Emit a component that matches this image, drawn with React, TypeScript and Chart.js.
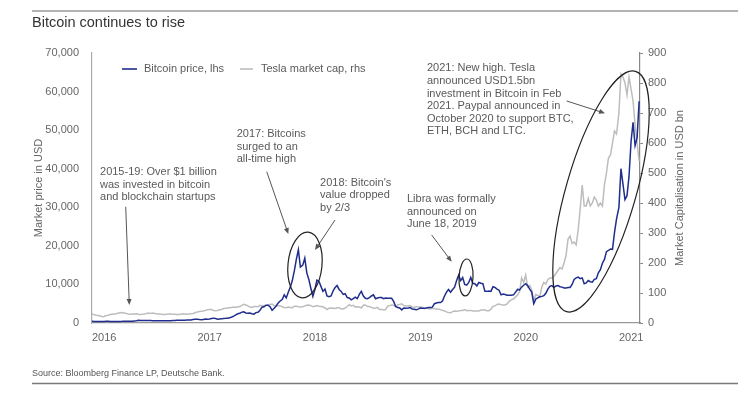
import React, { useEffect, useRef } from "react";
import { Chart, registerables } from "chart.js";
Chart.register(...registerables);

// ---- Data (weekly readings, starting 1 Jan of each year) ----
const yearTicks = [2016, 2017, 2018, 2019, 2020, 2021];
const leftTicks = [0, 10000, 20000, 30000, 40000, 50000, 60000, 70000];
const rightTicks = [0, 100, 200, 300, 400, 500, 600, 700, 800, 900];

// Bitcoin price, USD (lhs)
const btc2016 = [430, 380, 390, 385, 370, 375, 400, 430, 440, 415, 410, 415, 420, 420, 420, 425, 450, 450, 455, 445, 450, 530, 580, 700, 620, 650, 670, 655, 665, 655, 600, 590, 575, 580, 575, 605, 610, 605, 600, 615, 640, 650, 690, 710, 740, 740, 730, 760, 770, 790, 890, 960];
const btc2017 = [1000, 900, 830, 920, 1010, 1000, 1050, 1180, 1260, 1150, 1000, 1040, 1070, 1180, 1200, 1250, 1340, 1550, 1800, 2100, 2400, 2500, 2800, 2900, 2600, 2500, 2600, 2400, 2300, 2700, 2800, 3300, 4100, 4200, 4600, 4600, 4200, 3300, 3800, 4400, 5200, 5700, 6100, 7300, 6500, 8000, 9300, 11000, 13500, 16500, 19000, 14500];
const btc2018 = [15000, 16800, 13000, 11300, 9000, 6900, 8700, 11100, 10800, 9500, 8200, 8800, 7000, 6800, 7000, 8300, 9200, 9700, 8700, 8200, 7400, 7600, 6600, 6500, 6000, 6300, 6700, 6300, 7400, 8200, 7000, 6400, 6300, 6600, 7000, 7300, 6300, 6500, 6600, 6600, 6300, 6500, 6400, 6400, 6400, 5600, 4300, 4000, 3900, 3400, 3900, 3800];
const btc2019 = [3900, 4000, 3600, 3550, 3450, 3600, 3900, 3850, 3850, 3900, 4000, 4000, 4100, 5000, 5200, 5300, 5300, 5700, 7000, 8000, 8700, 8000, 8700, 9300, 11000, 12400, 11000, 11800, 10000, 9800, 10500, 11800, 10300, 10200, 9600, 10500, 10300, 10200, 8200, 8200, 8300, 8200, 9400, 9200, 8800, 8500, 7300, 7500, 7400, 7200, 7200, 7200];
const btc2020 = [7300, 8000, 8700, 8600, 9300, 9800, 10200, 9700, 8800, 8000, 5000, 6200, 6500, 6800, 6900, 7100, 7700, 8800, 9500, 9700, 9200, 9600, 9700, 9400, 9300, 9100, 9100, 9200, 9200, 10000, 11300, 11700, 11900, 11500, 11700, 10200, 10400, 11000, 10700, 10600, 11300, 11500, 13000, 13800, 15500, 16500, 18500, 18800, 19200, 19100, 23500, 27000];
const btc2021 = [30000, 40000, 36000, 32000, 33000, 38000, 47000, 52000, 46000, 48000, 57500];

// Tesla market cap, USD bn (rhs)
const tsla2016 = [30, 28, 26, 25, 24, 21, 22, 25, 26, 28, 29, 30, 31, 33, 34, 35, 33, 32, 30, 29, 30, 30, 31, 29, 28, 29, 30, 32, 33, 32, 33, 32, 31, 30, 30, 28, 28, 29, 30, 30, 29, 29, 28, 28, 29, 31, 30, 29, 30, 31, 32, 34];
const tsla2017 = [37, 38, 39, 40, 42, 44, 45, 45, 42, 41, 42, 44, 45, 48, 49, 50, 51, 52, 53, 52, 54, 55, 59, 62, 60, 57, 53, 52, 55, 55, 54, 59, 57, 58, 58, 60, 62, 63, 58, 57, 58, 57, 54, 52, 51, 53, 52, 51, 56, 56, 54, 53];
const tsla2018 = [54, 57, 59, 60, 58, 54, 56, 58, 56, 55, 54, 50, 45, 49, 50, 49, 48, 51, 51, 47, 47, 50, 55, 61, 57, 59, 53, 54, 53, 50, 59, 60, 55, 55, 52, 49, 50, 52, 45, 45, 44, 44, 56, 58, 60, 59, 55, 60, 62, 64, 58, 57];
const tsla2019 = [57, 58, 53, 52, 55, 53, 53, 52, 48, 50, 48, 47, 48, 48, 46, 47, 44, 42, 40, 37, 35, 34, 38, 40, 39, 40, 42, 42, 45, 41, 42, 42, 40, 40, 40, 40, 43, 43, 43, 41, 41, 46, 56, 57, 62, 63, 61, 60, 60, 64, 72, 77];
const tsla2020 = [80, 87, 93, 105, 150, 135, 160, 120, 125, 110, 75, 95, 92, 87, 120, 135, 130, 145, 150, 150, 155, 165, 175, 185, 180, 200, 225, 280, 290, 265, 270, 260, 310, 380, 460, 390, 390, 415, 390, 400, 420, 410, 390, 400, 390, 460, 500, 550, 560, 600, 640, 630];
const tsla2021 = [700, 830, 820, 800, 760, 820, 780, 740, 660, 600, 540];

const btcYears: [number, number[]][] = [[2016, btc2016], [2017, btc2017], [2018, btc2018], [2019, btc2019], [2020, btc2020], [2021, btc2021]];
const tslaYears: [number, number[]][] = [[2016, tsla2016], [2017, tsla2017], [2018, tsla2018], [2019, tsla2019], [2020, tsla2020], [2021, tsla2021]];

function toPoints(years: [number, number[]][]) {
  const pts: { x: number; y: number }[] = [];
  years.forEach(([yr, vals]) => vals.forEach((v, i) => pts.push({ x: yr + (i * 7) / 365.25, y: v })));
  return pts;
}

const FONT = "'Liberation Sans', Arial, sans-serif";
const BLUE = "#1f2d8c";
const GREY = "#bdbdbd";
const TXT = "#5a5a5a";

// Annotations, anchored in data units (year, USD on lhs)
const notes = [
  { x: 2016.076, y: 39150, lines: ["2015-19: Over $1 billion", "was invested in bitcoin", "and blockchain startups"] },
  { x: 2017.373, y: 49000, lines: ["2017: Bitcoins", "surged to an", "all-time high"] },
  { x: 2018.164, y: 36370, lines: ["2018: Bitcoin's", "value dropped", "by 2/3"] },
  { x: 2018.989, y: 32150, lines: ["Libra was formally", "announced on", "June 18, 2019"] },
  { x: 2019.178, y: 66030, lines: ["2021: New high. Tesla", "announced USD1.5bn", "investment in Bitcoin in Feb", "2021. Paypal announced in", "October 2020 to support BTC,", "ETH, BCH and LTC."] },
];
const arrows = [
  { x1: 2016.32, y1: 30150, x2: 2016.354, y2: 4670 },
  { x1: 2017.658, y1: 39230, x2: 2017.863, y2: 23070 },
  { x1: 2018.306, y1: 26700, x2: 2018.116, y2: 18930 },
  { x1: 2019.223, y1: 22820, x2: 2019.413, y2: 15890 },
  { x1: 2020.504, y1: 57560, x2: 2020.868, y2: 54370 },
];
const ellipses = [
  { x: 2018.021, y: 15040, rx: 17, ry: 33, rot: 0.1 },
  { x: 2019.549, y: 11800, rx: 7, ry: 18.5, rot: 0.05 },
  { x: 2020.83, y: 34090, rx: 35, ry: 125, rot: 0.28 },
];

const decorPlugin = {
  id: "decor",
  afterDraw(chart: any) {
    const { ctx, chartArea, scales } = chart;
    const xs = scales.x, ys = scales.y;
    const W = chart.width;
    ctx.save();
    // rules
    ctx.strokeStyle = "#9a9a9a";
    ctx.lineWidth = 1.5;
    ctx.beginPath(); ctx.moveTo(32, 11); ctx.lineTo(W, 11); ctx.stroke();
    ctx.strokeStyle = "#7a7a7a";
    ctx.beginPath(); ctx.moveTo(32, 383.5); ctx.lineTo(W, 383.5); ctx.stroke();
    // title
    ctx.fillStyle = "#333";
    ctx.font = `14.5px ${FONT}`;
    ctx.textBaseline = "middle";
    ctx.textAlign = "left";
    ctx.fillText("Bitcoin continues to rise", 32, 23);
    // source
    ctx.fillStyle = "#555";
    ctx.font = `9px ${FONT}`;
    ctx.fillText("Source: Bloomberg Finance LP, Deutsche Bank.", 32, 374);
    // axis titles
    const midY = (chartArea.top + chartArea.bottom) / 2;
    ctx.fillStyle = "#666";
    ctx.font = `11px ${FONT}`;
    ctx.textAlign = "center";
    ctx.save(); ctx.translate(39, midY); ctx.rotate(-Math.PI / 2); ctx.fillText("Market price in USD", 0, 0); ctx.restore();
    ctx.save(); ctx.translate(chartArea.right + 40, midY); ctx.rotate(-Math.PI / 2); ctx.fillText("Market Capitalisation in USD bn", 0, 0); ctx.restore();
    // legend
    const lx = chartArea.left, ly = chartArea.top + 16;
    ctx.lineWidth = 1.6;
    ctx.strokeStyle = BLUE;
    ctx.beginPath(); ctx.moveTo(lx + 30, ly); ctx.lineTo(lx + 45, ly); ctx.stroke();
    ctx.strokeStyle = GREY;
    ctx.beginPath(); ctx.moveTo(lx + 148, ly); ctx.lineTo(lx + 161, ly); ctx.stroke();
    ctx.fillStyle = TXT;
    ctx.textAlign = "left";
    ctx.fillText("Bitcoin price, lhs", lx + 52, ly);
    ctx.fillText("Tesla market cap, rhs", lx + 169, ly);
    // notes
    ctx.fillStyle = TXT;
    notes.forEach((n) => {
      const px = xs.getPixelForValue(n.x), py = ys.getPixelForValue(n.y);
      n.lines.forEach((l, i) => ctx.fillText(l, px, py + i * 12.6));
    });
    // arrows
    ctx.strokeStyle = "#555";
    ctx.fillStyle = "#555";
    ctx.lineWidth = 1;
    arrows.forEach((a) => {
      const x1 = xs.getPixelForValue(a.x1), y1 = ys.getPixelForValue(a.y1);
      const x2 = xs.getPixelForValue(a.x2), y2 = ys.getPixelForValue(a.y2);
      const ang = Math.atan2(y2 - y1, x2 - x1);
      ctx.beginPath(); ctx.moveTo(x1, y1); ctx.lineTo(x2 - 4 * Math.cos(ang), y2 - 4 * Math.sin(ang)); ctx.stroke();
      ctx.beginPath();
      ctx.moveTo(x2, y2);
      ctx.lineTo(x2 - 6 * Math.cos(ang) + 2.5 * Math.sin(ang), y2 - 6 * Math.sin(ang) - 2.5 * Math.cos(ang));
      ctx.lineTo(x2 - 6 * Math.cos(ang) - 2.5 * Math.sin(ang), y2 - 6 * Math.sin(ang) + 2.5 * Math.cos(ang));
      ctx.closePath(); ctx.fill();
    });
    // ellipses
    ctx.strokeStyle = "#222";
    ctx.lineWidth = 1.2;
    ellipses.forEach((e) => {
      ctx.beginPath();
      ctx.ellipse(xs.getPixelForValue(e.x), ys.getPixelForValue(e.y), e.rx, e.ry, e.rot, 0, Math.PI * 2);
      ctx.stroke();
    });
    ctx.restore();
  },
};

export default function App() {
  const ref = useRef<HTMLCanvasElement>(null);
  useEffect(() => {
    document.body.style.margin = "0";
    const chart = new Chart(ref.current!, {
      type: "line",
      data: {
        datasets: [
          { label: "Bitcoin price, lhs", data: toPoints(btcYears), borderColor: BLUE, borderWidth: 1.5, pointRadius: 0, yAxisID: "y", order: 0 },
          { label: "Tesla market cap, rhs", data: toPoints(tslaYears), borderColor: GREY, borderWidth: 1.5, pointRadius: 0, yAxisID: "y1", order: 1 },
        ],
      },
      options: {
        responsive: false,
        animation: false,
        layout: { padding: { top: 53, left: 0, right: 0, bottom: 0 } },
        plugins: { legend: { display: false }, tooltip: { enabled: false } },
        scales: {
          x: {
            type: "linear",
            min: 2016,
            max: 2021.2,
            afterBuildTicks: (s: any) => { s.ticks = yearTicks.map((v) => ({ value: v })); },
            afterFit: (s: any) => { s.height = 76; },
            grid: { display: false },
            border: { color: "#999", width: 1.3 },
            ticks: { align: "start", color: "#666", font: { family: FONT, size: 11 }, padding: 0, maxRotation: 0, autoSkip: false, callback: (v: any) => String(v) },
          },
          y: {
            position: "left",
            min: 0,
            max: 70000,
            afterBuildTicks: (s: any) => { s.ticks = leftTicks.map((v) => ({ value: v })); },
            afterFit: (s: any) => { s.width = 92; },
            grid: { display: false },
            border: { color: "#aaa", width: 1.2 },
            ticks: { color: "#666", font: { family: FONT, size: 11 }, padding: 5, callback: (v: any) => Number(v).toLocaleString("en-US") },
          },
          y1: {
            position: "right",
            min: 0,
            max: 900,
            afterBuildTicks: (s: any) => { s.ticks = rightTicks.map((v) => ({ value: v })); },
            afterFit: (s: any) => { s.width = 98; },
            grid: { display: true, drawOnChartArea: false, drawTicks: true, tickLength: 3, color: "#888" },
            border: { color: "#888", width: 1.2 },
            ticks: { color: "#666", font: { family: FONT, size: 11 }, padding: 5, callback: (v: any) => String(v) },
          },
        },
      },
      plugins: [decorPlugin],
    } as any);
    return () => chart.destroy();
  }, []);
  return (
    <div style={{ width: 738, height: 399 }}>
      <canvas ref={ref} width={738} height={399} style={{ display: "block" }} />
    </div>
  );
}
